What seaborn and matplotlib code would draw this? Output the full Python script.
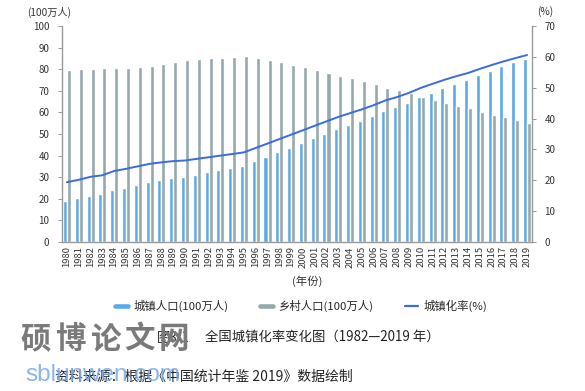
import numpy as np
import pandas as pd
import matplotlib
matplotlib.use("Agg")
import matplotlib.pyplot as plt
import seaborn as sns
from matplotlib.lines import Line2D

# data (units of 10 million people / %)
years = list(range(1980, 2020))
urban = [19.14, 20.17, 21.48, 22.27, 24.02, 25.09, 26.37, 27.67, 28.66, 29.54,
         30.20, 31.20, 32.18, 33.17, 34.17, 35.17, 37.30, 39.45, 41.61, 43.75,
         45.91, 48.06, 50.21, 52.38, 54.28, 56.21, 58.29, 60.63, 62.40, 64.51,
         66.98, 69.08, 71.18, 73.11, 74.92, 77.12, 79.30, 81.35, 83.14, 84.84]
rural = [79.57, 79.90, 80.17, 80.73, 80.34, 80.76, 81.14, 81.63, 82.37, 83.16,
         84.14, 84.62, 85.00, 85.34, 85.68, 85.95, 85.09, 84.18, 83.15, 82.04,
         80.84, 79.56, 78.24, 76.85, 75.71, 74.54, 73.16, 71.50, 70.40, 68.94,
         67.11, 65.66, 64.22, 62.96, 61.87, 60.35, 58.97, 57.66, 56.40, 55.16]
rate = [19.39, 20.16, 21.13, 21.62, 23.01, 23.71, 24.52, 25.32, 25.81, 26.21,
        26.41, 26.94, 27.46, 27.99, 28.51, 29.04, 30.48, 31.91, 33.35, 34.78,
        36.22, 37.66, 39.09, 40.53, 41.76, 42.99, 44.34, 45.89, 46.99, 48.34,
        49.95, 51.27, 52.57, 53.73, 54.77, 56.10, 57.35, 58.52, 59.58, 60.60]

series_names = ["城镇人口(100万人)", "乡村人口(100万人)", "城镇化率(%)"]
colors = ["#5AAAE9", "#95A8AC", "#3A6BE0"]

sns.set_style("white")
plt.rcParams["font.family"] = ["Noto Sans CJK SC", "DejaVu Sans"]

df = pd.DataFrame({
    "year": [str(y) for y in years] * 2,
    "value": urban + rural,
    "kind": [series_names[0]] * len(years) + [series_names[1]] * len(years),
})

W, H = 585, 391
fig = plt.figure(figsize=(W / 100, H / 100), dpi=100)
ax = fig.add_axes([62 / W, 1 - 242 / H, 470 / W, 216 / H])

sns.barplot(data=df, x="year", y="value", hue="kind", palette=colors[:2],
            width=0.68, gap=0.0, legend=False, ax=ax, saturation=1)
ax.set_ylim(0, 100)
ax.set_yticks(range(0, 101, 10))
ax.set_xlim(-0.42, len(years) - 1 + 0.42)
ax.set_xlabel("")
ax.set_ylabel("")
ax.tick_params(axis="x", labelrotation=90, labelsize=6.8, length=0, pad=3, colors="#333333")
ax.tick_params(axis="y", labelsize=7, length=3, width=0.6, color="#888888", pad=6,
               labelcolor="#333333")

ax2 = ax.twinx()
sns.lineplot(x=np.arange(len(years)), y=rate, color=colors[2], linewidth=1.4, ax=ax2)
ax2.set_ylim(0, 70)
ax2.set_yticks(range(0, 71, 10))
ax2.tick_params(axis="y", labelsize=7, length=3, width=0.6, color="#888888", pad=6,
                labelcolor="#333333")

for a in (ax, ax2):
    a.spines["top"].set_visible(False)
    for s in ("left", "right", "bottom"):
        a.spines[s].set_color("#999999")
        a.spines[s].set_linewidth(1.0)
ax.spines["right"].set_visible(False)
ax2.spines["left"].set_visible(False)
ax2.spines["bottom"].set_visible(False)

fig.text(27 / W, 1 - 12 / H, "(100万人)", fontsize=7.3, va="center", color="#333333")
fig.text(537 / W, 1 - 12 / H, "(%)", fontsize=7.3, va="center", color="#333333")
fig.text(307 / W, 1 - 281 / H, "(年份)", fontsize=8.2, ha="center", va="center",
         color="#333333")

# legend: one small legend per entry so each sits where the reference puts it
handles = [Line2D([], [], color=colors[0], linewidth=3.3),
           Line2D([], [], color=colors[1], linewidth=3.3),
           Line2D([], [], color=colors[2], linewidth=1.6)]
for h, name, x in zip(handles, series_names, [115, 260, 405]):
    fig.legend([h], [name], loc="center left", bbox_to_anchor=(x / W, 1 - 306 / H),
               frameon=False, fontsize=8.2, handlelength=1.15, handletextpad=0.45,
               borderpad=0, borderaxespad=0)

# caption and source
fig.text(157 / W, 1 - 338 / H, "图3-1", fontsize=9.6, va="center", color="#222222")
fig.text(205 / W, 1 - 338 / H, "全国城镇化率变化图（1982—2019 年）",
         fontsize=9.6, va="center", color="#222222")
fig.text(55 / W, 1 - 377 / H, "资料来源：根据《中国统计年鉴 2019》数据绘制",
         fontsize=10, va="center", color="#222222")

# watermark
for i, ch in enumerate("硕博论文网"):
    fig.text((36 + 34.5 * i) / W, 1 - 339 / H, ch, fontsize=22, ha="center", va="center",
             color="#7a7a7a", fontweight="bold")
fig.text(25 / W, 1 - 375 / H, "sblunwen.com", fontsize=17.5, va="center",
         color="#7aa8e8", alpha=0.85, family=["Liberation Sans"])

fig.savefig("out.png", dpi=100, facecolor="white")
